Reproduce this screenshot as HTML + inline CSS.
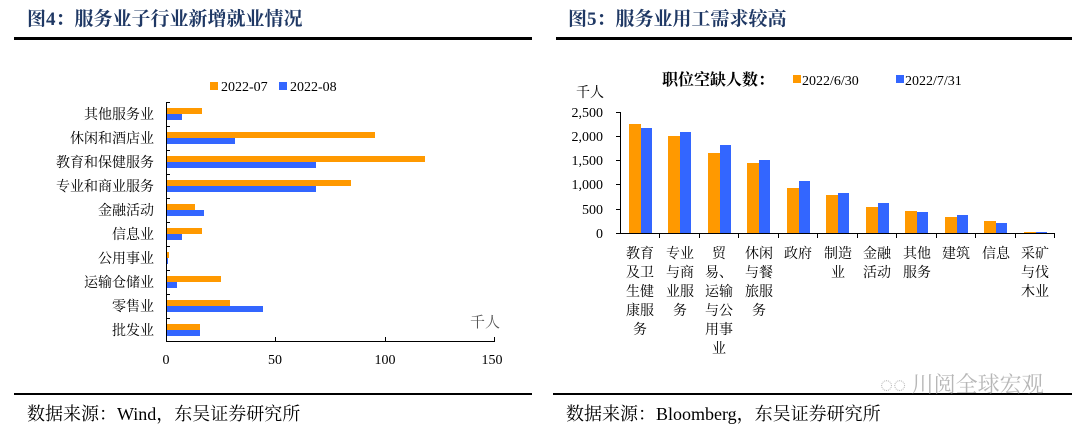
<!DOCTYPE html>
<html><head><meta charset="utf-8"><style>
body{margin:0;background:#fff;}
svg{display:block;}
text{font-family:"Liberation Serif","Noto Serif CJK SC",serif;}
</style></head><body>
<svg width="1080" height="437" xmlns="http://www.w3.org/2000/svg">
<rect width="1080" height="437" fill="#fff"/>
<text x="27" y="25" font-size="19" font-weight="bold" fill="#1f3864">图4：服务业子行业新增就业情况</text>
<text x="568" y="25" font-size="19" font-weight="bold" fill="#1f3864">图5：服务业用工需求较高</text>
<rect x="14" y="37" width="518" height="3" fill="#000"/>
<rect x="556" y="37" width="516" height="3" fill="#000"/>
<rect x="14" y="393" width="518" height="2" fill="#000"/>
<rect x="553" y="393" width="519" height="2" fill="#000"/>
<text x="27" y="420" font-size="18" fill="#000">数据来源：Wind，东吴证券研究所</text>
<text x="566" y="420" font-size="18" fill="#000">数据来源：Bloomberg，东吴证券研究所</text>
<text x="880" y="392" font-size="22" fill="#999" opacity="0.7" font-family="Liberation Sans,Noto Sans CJK SC,sans-serif">◌◌ 川阅全球宏观</text>

<!-- left chart -->
<rect x="210" y="82" width="8" height="8" fill="#ff9900"/>
<text x="221" y="91" font-size="14">2022-07</text>
<rect x="279" y="82" width="8" height="8" fill="#3366ff"/>
<text x="290" y="91" font-size="14">2022-08</text>
<g font-size="14" text-anchor="end">
<text x="154" y="119">其他服务业</text>
<text x="154" y="143">休闲和酒店业</text>
<text x="154" y="167">教育和保健服务</text>
<text x="154" y="191">专业和商业服务</text>
<text x="154" y="215">金融活动</text>
<text x="154" y="239">信息业</text>
<text x="154" y="263">公用事业</text>
<text x="154" y="287">运输仓储业</text>
<text x="154" y="311">零售业</text>
<text x="154" y="335">批发业</text>
</g>
<g fill="#ff9900">
<rect x="167" y="108" width="35" height="6"/>
<rect x="167" y="132" width="208" height="6"/>
<rect x="167" y="156" width="258" height="6"/>
<rect x="167" y="180" width="184" height="6"/>
<rect x="167" y="204" width="28" height="6"/>
<rect x="167" y="228" width="35" height="6"/>
<rect x="167" y="252" width="2" height="6"/>
<rect x="167" y="276" width="54" height="6"/>
<rect x="167" y="300" width="63" height="6"/>
<rect x="167" y="324" width="33" height="6"/>
</g>
<g fill="#3366ff">
<rect x="167" y="114" width="15" height="6"/>
<rect x="167" y="138" width="68" height="6"/>
<rect x="167" y="162" width="149" height="6"/>
<rect x="167" y="186" width="149" height="6"/>
<rect x="167" y="210" width="37" height="6"/>
<rect x="167" y="234" width="15" height="6"/>
<rect x="167" y="258" width="1" height="6"/>
<rect x="167" y="282" width="10" height="6"/>
<rect x="167" y="306" width="96" height="6"/>
<rect x="167" y="330" width="33" height="6"/>
</g>
<g stroke="#000" stroke-width="1">
<line x1="166.5" y1="102" x2="166.5" y2="342"/>
<line x1="166" y1="341.5" x2="495" y2="341.5"/>
<line x1="166" y1="102.5" x2="170" y2="102.5"/>
<line x1="166" y1="126.5" x2="170" y2="126.5"/>
<line x1="166" y1="150.5" x2="170" y2="150.5"/>
<line x1="166" y1="174.5" x2="170" y2="174.5"/>
<line x1="166" y1="198.5" x2="170" y2="198.5"/>
<line x1="166" y1="222.5" x2="170" y2="222.5"/>
<line x1="166" y1="246.5" x2="170" y2="246.5"/>
<line x1="166" y1="270.5" x2="170" y2="270.5"/>
<line x1="166" y1="294.5" x2="170" y2="294.5"/>
<line x1="166" y1="318.5" x2="170" y2="318.5"/>
<line x1="275.5" y1="337" x2="275.5" y2="342"/>
<line x1="385.5" y1="337" x2="385.5" y2="342"/>
<line x1="494.5" y1="337" x2="494.5" y2="342"/>
</g>
<g font-size="14" text-anchor="middle">
<text x="166" y="364">0</text>
<text x="275" y="364">50</text>
<text x="385" y="364">100</text>
<text x="492" y="364">150</text>
</g>
<text x="470" y="327" font-size="15" fill="#555">千人</text>

<!-- right chart -->
<text x="662" y="85" font-size="16" font-weight="bold">职位空缺人数：</text>
<rect x="793" y="75" width="8" height="8" fill="#ff9900"/>
<text x="802" y="85" font-size="14">2022/6/30</text>
<rect x="896" y="75" width="8" height="8" fill="#3366ff"/>
<text x="905" y="85" font-size="14">2022/7/31</text>
<text x="576" y="97" font-size="14">千人</text>
<g font-size="14" text-anchor="end">
<text x="603" y="117">2,500</text>
<text x="603" y="141">2,000</text>
<text x="603" y="165">1,500</text>
<text x="603" y="189">1,000</text>
<text x="603" y="214">500</text>
<text x="603" y="238">0</text>
</g>
<g fill="#ff9900">
<rect x="629" y="124" width="12" height="109"/>
<rect x="668" y="136" width="12" height="97"/>
<rect x="708" y="153" width="12" height="80"/>
<rect x="747" y="163" width="12" height="70"/>
<rect x="787" y="188" width="12" height="45"/>
<rect x="826" y="195" width="12" height="38"/>
<rect x="866" y="207" width="12" height="26"/>
<rect x="905" y="211" width="12" height="22"/>
<rect x="945" y="217" width="12" height="16"/>
<rect x="984" y="221" width="12" height="12"/>
<rect x="1024" y="232" width="12" height="1"/>
</g>
<g fill="#3366ff">
<rect x="641" y="128" width="11" height="105"/>
<rect x="680" y="132" width="11" height="101"/>
<rect x="720" y="145" width="11" height="88"/>
<rect x="759" y="160" width="11" height="73"/>
<rect x="799" y="181" width="11" height="52"/>
<rect x="838" y="193" width="11" height="40"/>
<rect x="878" y="203" width="11" height="30"/>
<rect x="917" y="212" width="11" height="21"/>
<rect x="957" y="215" width="11" height="18"/>
<rect x="996" y="223" width="11" height="10"/>
<rect x="1036" y="232" width="11" height="1"/>
</g>
<g stroke="#000" stroke-width="1">
<line x1="620.5" y1="112" x2="620.5" y2="234"/>
<line x1="616" y1="233.5" x2="1055" y2="233.5"/>
<line x1="616" y1="112.5" x2="620" y2="112.5"/>
<line x1="616" y1="136.5" x2="620" y2="136.5"/>
<line x1="616" y1="160.5" x2="620" y2="160.5"/>
<line x1="616" y1="184.5" x2="620" y2="184.5"/>
<line x1="616" y1="209.5" x2="620" y2="209.5"/>
<line x1="659.5" y1="233" x2="659.5" y2="238"/>
<line x1="699.5" y1="233" x2="699.5" y2="238"/>
<line x1="738.5" y1="233" x2="738.5" y2="238"/>
<line x1="778.5" y1="233" x2="778.5" y2="238"/>
<line x1="817.5" y1="233" x2="817.5" y2="238"/>
<line x1="857.5" y1="233" x2="857.5" y2="238"/>
<line x1="896.5" y1="233" x2="896.5" y2="238"/>
<line x1="936.5" y1="233" x2="936.5" y2="238"/>
<line x1="975.5" y1="233" x2="975.5" y2="238"/>
<line x1="1015.5" y1="233" x2="1015.5" y2="238"/>
<line x1="1054.5" y1="233" x2="1054.5" y2="238"/>
</g>
<g font-size="14" text-anchor="middle">
<text x="640" y="258">教育</text><text x="640" y="277">及卫</text><text x="640" y="296">生健</text><text x="640" y="315">康服</text><text x="640" y="334">务</text>
<text x="680" y="258">专业</text><text x="680" y="277">与商</text><text x="680" y="296">业服</text><text x="680" y="315">务</text>
<text x="719" y="258">贸</text><text x="719" y="277">易、</text><text x="719" y="296">运输</text><text x="719" y="315">与公</text><text x="719" y="334">用事</text><text x="719" y="353">业</text>
<text x="759" y="258">休闲</text><text x="759" y="277">与餐</text><text x="759" y="296">旅服</text><text x="759" y="315">务</text>
<text x="798" y="258">政府</text>
<text x="838" y="258">制造</text><text x="838" y="277">业</text>
<text x="877" y="258">金融</text><text x="877" y="277">活动</text>
<text x="917" y="258">其他</text><text x="917" y="277">服务</text>
<text x="956" y="258">建筑</text>
<text x="996" y="258">信息</text>
<text x="1035" y="258">采矿</text><text x="1035" y="277">与伐</text><text x="1035" y="296">木业</text>
</g>
</svg>
</body></html>
